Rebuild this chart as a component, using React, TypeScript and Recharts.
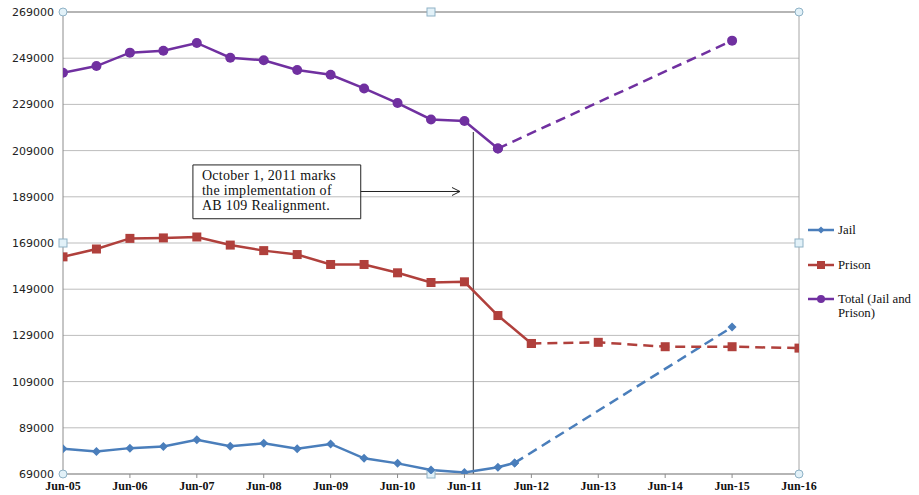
import { LineChart, Line, XAxis, YAxis, CartesianGrid, Legend, ReferenceLine, ReferenceArea, ReferenceDot } from 'recharts';

// months counted from Jun-05
const halfYears = [0, 6, 12, 18, 24, 30, 36, 42, 48, 54, 60, 66, 72, 78];

const jailMonths = [...halfYears, 81];
const jailValues = [79900, 78700, 80200, 80900, 83800, 81000, 82300, 79900, 82000, 75800, 73600, 70700, 69700, 71900, 73800];
const jailProjMonths = [81, 120];
const jailProjValues = [73800, 132600];

const prisonMonths = [...halfYears, 84];
const prisonValues = [163000, 166400, 171000, 171200, 171600, 168100, 165700, 164000, 159700, 159700, 156100, 151900, 152200, 137600, 125500];
const prisonProjMonths = [84, 96, 108, 120, 132];
const prisonProjValues = [125500, 126000, 124100, 124100, 123500];

const totalMonths = halfYears;
const totalValues = [242700, 245600, 251400, 252200, 255600, 249200, 248100, 243900, 241800, 235900, 229600, 222500, 221800, 209900];
const totalProjMonths = [78, 120];
const totalProjValues = [209900, 256600];

const xTicks = [0, 12, 24, 36, 48, 60, 72, 84, 96, 108, 120, 132];
const xLabels = ['Jun-05', 'Jun-06', 'Jun-07', 'Jun-08', 'Jun-09', 'Jun-10', 'Jun-11', 'Jun-12', 'Jun-13', 'Jun-14', 'Jun-15', 'Jun-16'];
const yTicks = [69000, 89000, 109000, 129000, 149000, 169000, 189000, 209000, 229000, 249000, 269000];

const noteLines = ['October 1, 2011 marks', 'the implementation of', 'AB 109 Realignment.'];

const JAIL = '#4a7ebb';
const PRISON = '#b0403c';
const TOTAL = '#7030a0';

const toRows = (ms: number[], vs: number[]) => ms.map((m, i) => ({ m, v: vs[i] }));

const Diamond = (p: any) => {
  const { cx, cy } = p;
  if (cx == null || cy == null) return null;
  return <path d={`M${cx},${cy - 4.5}L${cx + 4.5},${cy}L${cx},${cy + 4.5}L${cx - 4.5},${cy}Z`} fill={JAIL} />;
};
const Square = (p: any) => {
  const { cx, cy } = p;
  if (cx == null || cy == null) return null;
  return <rect x={cx - 4.5} y={cy - 4.5} width={9} height={9} fill={PRISON} />;
};
const Dot = (p: any) => {
  const { cx, cy } = p;
  if (cx == null || cy == null) return null;
  return <circle cx={cx} cy={cy} r={5} fill={TOTAL} />;
};

const Handle = (p: any) => <circle cx={p.cx} cy={p.cy} r={4} fill="#e2f1f8" stroke="#8fb2c6" strokeWidth={1} />;
const HandleSq = (p: any) => <rect x={p.cx - 4} y={p.cy - 4} width={8} height={8} fill="#e2f1f8" stroke="#8fb2c6" strokeWidth={1} />;

const Arrow = (p: any) => {
  const { x1, y1, x2, y2 } = p;
  return (
    <g stroke="#222" strokeWidth={1} fill="none">
      <line x1={x1} y1={y1} x2={x2} y2={y2} />
      <path d={`M${x2 - 8},${y2 - 4}L${x2},${y2}L${x2 - 8},${y2 + 4}`} />
    </g>
  );
};

const NoteLabel = (p: any) => {
  const { x, y } = p.viewBox;
  return (
    <text fontFamily="'Liberation Serif', serif" fontSize={14} letterSpacing={0.3} fill="#111">
      {noteLines.map((t, i) => (
        <tspan key={i} x={x + 9} y={y + 15 + i * 15}>{t}</tspan>
      ))}
    </text>
  );
};

const legendItems = [
  { label: ['Jail'], color: JAIL, shape: 'diamond', top: 0 },
  { label: ['Prison'], color: PRISON, shape: 'square', top: 35 },
  { label: ['Total (Jail and', 'Prison)'], color: TOTAL, shape: 'circle', top: 69 },
];

const LegendBox = () => (
  <div style={{ position: 'relative', width: 113, height: 110, fontFamily: "'Liberation Serif', serif", fontSize: 12.8, color: '#111' }}>
    {legendItems.map((it) => (
      <div key={it.color} style={{ position: 'absolute', left: 0, top: it.top, display: 'flex', alignItems: 'flex-start' }}>
        <svg width={30} height={14} style={{ flex: 'none' }}>
          <line x1={2} y1={7} x2={28} y2={7} stroke={it.color} strokeWidth={2.5} />
          {it.shape === 'diamond' && <path d="M15,3.5L18.5,7L15,10.5L11.5,7Z" fill={it.color} />}
          {it.shape === 'square' && <rect x={11} y={3} width={8} height={8} fill={it.color} />}
          {it.shape === 'circle' && <circle cx={15} cy={7} r={4} fill={it.color} />}
        </svg>
        <div style={{ lineHeight: '14px', marginLeft: 2 }}>
          {it.label.map((l) => <div key={l}>{l}</div>)}
        </div>
      </div>
    ))}
  </div>
);

export default function App() {
  return (
    <div style={{ position: 'absolute', left: 0, top: 0, width: 919, height: 495, background: '#fff' }}>
      <LineChart width={919} height={495} margin={{ top: 12, right: 120, bottom: 3, left: 0 }}>
        <CartesianGrid horizontal vertical={false} stroke="#bdbdbd" />
        <XAxis
          type="number"
          dataKey="m"
          domain={[0, 132]}
          ticks={xTicks}
          tickFormatter={(v: number) => xLabels[xTicks.indexOf(v)]}
          height={18}
          stroke="#8c8c8c"
          tickSize={4}
          tickMargin={3}
          interval={0}
          tick={{ fontFamily: "'Liberation Serif', serif", fontSize: 12, fontWeight: 'bold', fill: '#111' }}
          allowDataOverflow
        />
        <YAxis
          type="number"
          domain={[69000, 269000]}
          ticks={yTicks}
          width={63}
          stroke="#8c8c8c"
          tickLine={false}
          tickSize={0}
          tickMargin={9}
          interval={0}
          tick={{ fontFamily: "'DejaVu Sans', sans-serif", fontSize: 11, fill: '#222' }}
          allowDataOverflow
        />
        <ReferenceLine x={132} stroke="#a6a6a6" />
        <ReferenceLine y={269000} stroke="#8c8c8c" />
        <ReferenceArea x1={23.3} x2={53.4} y1={179500} y2={202800} fill="none" stroke="#222" strokeWidth={1} fillOpacity={0} label={NoteLabel} />
        <ReferenceLine segment={[{ x: 53.4, y: 191300 }, { x: 71.2, y: 191300 }]} shape={Arrow} />
        <ReferenceLine segment={[{ x: 73.6, y: 217000 }, { x: 73.6, y: 69000 }]} stroke="#555" strokeWidth={1.3} />

        <Line data={toRows(jailMonths, jailValues)} dataKey="v" stroke={JAIL} strokeWidth={2.5} dot={Diamond} activeDot={false} isAnimationActive={false} legendType="none" />
        <Line data={toRows(jailProjMonths, jailProjValues)} dataKey="v" stroke={JAIL} strokeWidth={2.5} strokeDasharray="10 6" dot={Diamond} activeDot={false} isAnimationActive={false} legendType="none" />
        <Line data={toRows(prisonMonths, prisonValues)} dataKey="v" stroke={PRISON} strokeWidth={2.5} dot={Square} activeDot={false} isAnimationActive={false} legendType="none" />
        <Line data={toRows(prisonProjMonths, prisonProjValues)} dataKey="v" stroke={PRISON} strokeWidth={2.5} strokeDasharray="10 6" dot={Square} activeDot={false} isAnimationActive={false} legendType="none" />
        <Line data={toRows(totalMonths, totalValues)} dataKey="v" stroke={TOTAL} strokeWidth={2.5} dot={Dot} activeDot={false} isAnimationActive={false} legendType="none" />
        <Line data={toRows(totalProjMonths, totalProjValues)} dataKey="v" stroke={TOTAL} strokeWidth={2.5} strokeDasharray="10 6" dot={Dot} activeDot={false} isAnimationActive={false} legendType="none" />

        <ReferenceDot x={0} y={269000} shape={Handle} />
        <ReferenceDot x={132} y={269000} shape={Handle} />
        <ReferenceDot x={0} y={69000} shape={Handle} />
        <ReferenceDot x={132} y={69000} shape={Handle} />
        <ReferenceDot x={66} y={269000} shape={HandleSq} />
        <ReferenceDot x={66} y={69000} shape={HandleSq} />
        <ReferenceDot x={0} y={169000} shape={HandleSq} />
        <ReferenceDot x={132} y={169000} shape={HandleSq} />

        <Legend layout="horizontal" align="center" verticalAlign="middle" content={LegendBox} wrapperStyle={{ position: 'absolute', left: 806, top: 223, width: 113, height: 110 }} />
      </LineChart>
    </div>
  );
}
